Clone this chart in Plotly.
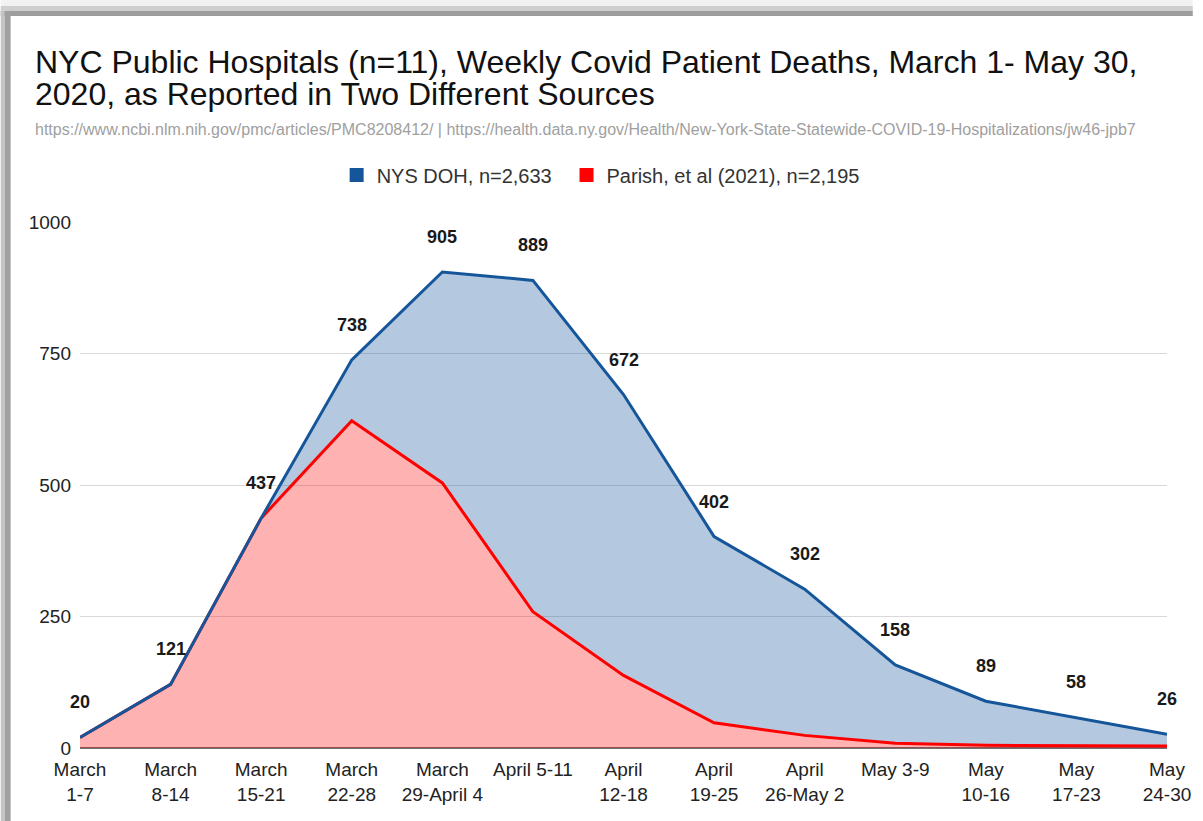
import plotly.graph_objects as go

weeks = ["March<br>1-7", "March<br>8-14", "March<br>15-21", "March<br>22-28",
         "March<br>29-April 4", "April 5-11", "April<br>12-18", "April<br>19-25",
         "April<br>26-May 2", "May 3-9", "May<br>10-16", "May<br>17-23", "May<br>24-30"]
nys_doh = [20, 121, 437, 738, 905, 889, 672, 402, 302, 158, 89, 58, 26]
parish = [20, 121, 437, 622, 504, 259, 138, 48, 24, 9, 5, 4, 4]
y_ticks = [0, 250, 500, 750, 1000]
name_doh = "NYS DOH, n=2,633"
name_parish = "Parish, et al (2021), n=2,195"
title_l1 = "NYC Public Hospitals (n=11), Weekly Covid Patient Deaths, March 1- May 30,"
title_l2 = "2020, as Reported in Two Different Sources"
subtitle = ("https://www.ncbi.nlm.nih.gov/pmc/articles/PMC8208412/ | "
            "https://health.data.ny.gov/Health/New-York-State-Statewide-COVID-19-Hospitalizations/jw46-jpb7")

BLUE = "#15559a"
RED = "#ff0000"
FONT = "Liberation Sans, Arial, sans-serif"

# plot-area geometry (pixels)
W_IMG, H_IMG = 1203, 821
L, R, T, B = 80, 1177, 222, 748
PW, PH = R - L, B - T


def px(x):
    return (x - L) / PW


def py(y):
    return (B - y) / PH


xs = list(range(len(weeks)))

fig = go.Figure()
fig.add_trace(go.Scatter(x=xs, y=parish, mode="lines", fill="tozeroy",
                         fillcolor="rgba(255,0,0,0.3)", line=dict(color=RED, width=3),
                         showlegend=False, hoverinfo="skip"))
fig.add_trace(go.Scatter(x=xs, y=nys_doh, mode="lines", fill="tonexty",
                         fillcolor="rgba(21,85,155,0.32)", line=dict(color=BLUE, width=3),
                         showlegend=False, hoverinfo="skip"))
# legend entries with square swatches
fig.add_trace(go.Scatter(x=[None], y=[None], mode="markers", name=name_doh, legend="legend",
                         marker=dict(symbol="square", size=14, color=BLUE)))
fig.add_trace(go.Scatter(x=[None], y=[None], mode="markers", name=name_parish, legend="legend2",
                         marker=dict(symbol="square", size=14, color=RED)))

annotations = []
for i, v in enumerate(nys_doh):
    annotations.append(dict(x=i, y=v, xref="x", yref="y", text=str(v), showarrow=False,
                            yshift=35, font=dict(family=FONT, size=18, color="#1a1a1a", weight="bold")))

annotations.append(dict(x=px(33), y=py(62), xref="paper", yref="paper", xanchor="left",
                        yanchor="middle", text=title_l1, showarrow=False,
                        font=dict(family=FONT, size=32, color="#111111")))
annotations.append(dict(x=px(33), y=py(94), xref="paper", yref="paper", xanchor="left",
                        yanchor="middle", text=title_l2, showarrow=False,
                        font=dict(family=FONT, size=32, color="#111111")))
annotations.append(dict(x=px(33), y=py(129), xref="paper", yref="paper", xanchor="left",
                        yanchor="middle", text=subtitle, showarrow=False,
                        font=dict(family=FONT, size=16, color="#a0a0a0")))

# screenshot frame (top and left grey borders)
shapes = [
    dict(type="rect", xref="paper", yref="paper", x0=px(0), x1=px(W_IMG), y0=py(0), y1=py(6),
         fillcolor="#f2f2f2", line=dict(width=0), layer="above"),
    dict(type="rect", xref="paper", yref="paper", x0=px(0), x1=px(W_IMG), y0=py(6), y1=py(11),
         fillcolor="#cfcfcf", line=dict(width=0), layer="above"),
    dict(type="rect", xref="paper", yref="paper", x0=px(0), x1=px(W_IMG), y0=py(11), y1=py(16),
         fillcolor="#9d9d9d", line=dict(width=0), layer="above"),
    dict(type="rect", xref="paper", yref="paper", x0=px(0), x1=px(4), y0=py(11), y1=py(H_IMG),
         fillcolor="#c4c4c4", line=dict(width=0), layer="above"),
    dict(type="rect", xref="paper", yref="paper", x0=px(4), x1=px(10), y0=py(11), y1=py(H_IMG),
         fillcolor="#a0a0a0", line=dict(width=0), layer="above"),
]

legend_common = dict(orientation="h", xanchor="left", yanchor="middle", y=py(175),
                     font=dict(family=FONT, size=20, color="#333333"),
                     bgcolor="rgba(0,0,0,0)", itemclick=False, itemdoubleclick=False)

fig.update_layout(
    width=W_IMG, height=H_IMG,
    margin=dict(l=L, r=W_IMG - R, t=T, b=H_IMG - B, pad=0),
    paper_bgcolor="white", plot_bgcolor="white",
    font=dict(family=FONT, size=18, color="#222222"),
    showlegend=True,
    legend=dict(x=px(339), **legend_common),
    legend2=dict(x=px(571), **legend_common),
    annotations=annotations,
    shapes=shapes,
    xaxis=dict(range=[0, len(weeks) - 1], tickmode="array", tickvals=xs, ticktext=weeks,
               showgrid=False, zeroline=False, showline=False, ticks="", ticklabelstandoff=8,
               tickfont=dict(family=FONT, size=19, color="#222222"), fixedrange=True),
    yaxis=dict(range=[0, 1000], tickmode="array", tickvals=y_ticks,
               showgrid=True, gridcolor="#d9d9d9", gridwidth=1,
               zeroline=True, zerolinecolor="#707070", zerolinewidth=2,
               showline=False, ticks="", ticklabelstandoff=8,
               tickfont=dict(family=FONT, size=19, color="#222222"), fixedrange=True),
)

fig.write_html("out.html", config={"displayModeBar": False},
               post_script="document.body.style.margin='0';document.body.style.overflow='hidden';")
